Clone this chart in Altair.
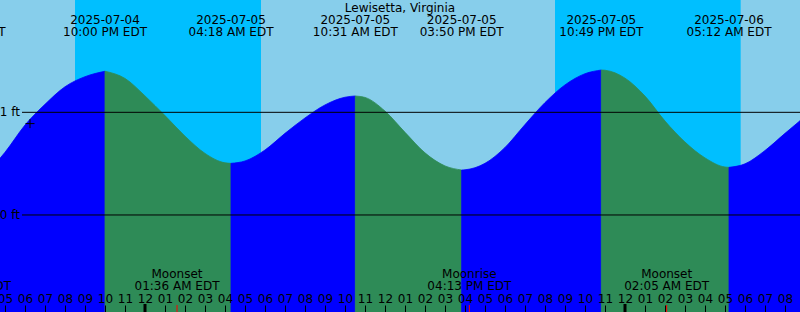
import altair as alt
import pandas as pd

STATION = "Lewisetta, Virginia"

# Water level readings (ft)
TIDE_TIMES = [
    "2025-07-04T16:45", "2025-07-04T17:00", "2025-07-04T18:00", "2025-07-04T19:00",
    "2025-07-04T20:00", "2025-07-04T21:00", "2025-07-04T22:00", "2025-07-04T23:00",
    "2025-07-05T00:00", "2025-07-05T01:00", "2025-07-05T02:00", "2025-07-05T03:00",
    "2025-07-05T04:00", "2025-07-05T04:18", "2025-07-05T05:00", "2025-07-05T06:00",
    "2025-07-05T07:00", "2025-07-05T08:00", "2025-07-05T09:00", "2025-07-05T10:00",
    "2025-07-05T10:31", "2025-07-05T11:00", "2025-07-05T12:00", "2025-07-05T13:00",
    "2025-07-05T14:00", "2025-07-05T15:00", "2025-07-05T15:50", "2025-07-05T16:00",
    "2025-07-05T17:00", "2025-07-05T18:00", "2025-07-05T19:00", "2025-07-05T20:00",
    "2025-07-05T21:00", "2025-07-05T22:00", "2025-07-05T22:49", "2025-07-05T23:00",
    "2025-07-06T00:00", "2025-07-06T01:00", "2025-07-06T02:00", "2025-07-06T03:00",
    "2025-07-06T04:00", "2025-07-06T05:00", "2025-07-06T05:12", "2025-07-06T06:00",
    "2025-07-06T07:00", "2025-07-06T08:00", "2025-07-06T08:45",
]
TIDE_FT = [
    0.552, 0.611, 0.876, 1.078,
    1.249, 1.347, 1.400, 1.330,
    1.160, 0.968, 0.768, 0.600,
    0.508, 0.503, 0.526, 0.633,
    0.795, 0.945, 1.072, 1.147,
    1.159, 1.145, 1.012, 0.805,
    0.605, 0.478, 0.438, 0.440,
    0.503, 0.658, 0.881, 1.095,
    1.267, 1.376, 1.412, 1.410,
    1.333, 1.158, 0.915, 0.710,
    0.556, 0.467, 0.464, 0.498,
    0.628, 0.795, 0.918,
]

# High / low tide events
EXTREME_TIMES = ["2025-07-04T14:56", "2025-07-04T22:00", "2025-07-05T04:18", "2025-07-05T10:31",
                 "2025-07-05T15:50", "2025-07-05T22:49", "2025-07-06T05:12"]
EXTREME_DATES = ["2025-07-04", "2025-07-04", "2025-07-05", "2025-07-05",
                 "2025-07-05", "2025-07-05", "2025-07-06"]
EXTREME_CLOCK = ["02:56 PM EDT", "10:00 PM EDT", "04:18 AM EDT", "10:31 AM EDT",
                 "03:50 PM EDT", "10:49 PM EDT", "05:12 AM EDT"]

# Night periods (sunset -> sunrise)
NIGHT_START = ["2025-07-04T20:30", "2025-07-05T20:30"]
NIGHT_END = ["2025-07-05T05:48", "2025-07-06T05:47"]

# Moon events
MOON_TIMES = ["2025-07-04T15:12", "2025-07-05T01:36", "2025-07-05T16:13", "2025-07-06T02:05"]
MOON_EVENTS = ["Moonrise", "Moonset", "Moonrise", "Moonset"]
MOON_CLOCK = ["03:12 PM EDT", "01:36 AM EDT", "04:13 PM EDT", "02:05 AM EDT"]

MIDNIGHTS = ["2025-07-05T00:00", "2025-07-06T00:00"]

# Hour ticks along the bottom
HOUR_TICKS = [
    "2025-07-04T17:00", "2025-07-04T18:00", "2025-07-04T19:00", "2025-07-04T20:00",
    "2025-07-04T21:00", "2025-07-04T22:00", "2025-07-04T23:00", "2025-07-05T00:00",
    "2025-07-05T01:00", "2025-07-05T02:00", "2025-07-05T03:00", "2025-07-05T04:00",
    "2025-07-05T05:00", "2025-07-05T06:00", "2025-07-05T07:00", "2025-07-05T08:00",
    "2025-07-05T09:00", "2025-07-05T10:00", "2025-07-05T11:00", "2025-07-05T12:00",
    "2025-07-05T13:00", "2025-07-05T14:00", "2025-07-05T15:00", "2025-07-05T16:00",
    "2025-07-05T17:00", "2025-07-05T18:00", "2025-07-05T19:00", "2025-07-05T20:00",
    "2025-07-05T21:00", "2025-07-05T22:00", "2025-07-05T23:00", "2025-07-06T00:00",
    "2025-07-06T01:00", "2025-07-06T02:00", "2025-07-06T03:00", "2025-07-06T04:00",
    "2025-07-06T05:00", "2025-07-06T06:00", "2025-07-06T07:00", "2025-07-06T08:00",
]

LEVEL_FT = [1, 0]
LEVEL_LABELS = ["1 ft", "0 ft"]

MARK_TIMES = ["2025-07-04T18:15"]
MARK_FT = [0.89]

X_START = "2025-07-04T16:45"
X_END = "2025-07-06T08:45"
Y_MIN, Y_MAX = -0.945, 2.094

DAY = "#87CEEB"
NIGHT = "#00BFFF"
RISING = "#0000FF"
FALLING = "#2E8B57"
FONT = "DejaVu Sans"


def ms(t):
    return int(pd.Timestamp(t, tz="UTC").value // 10**6)


# Build tide segments between extremes
bounds = [X_START] + [t for t in EXTREME_TIMES if X_START < t < X_END] + [X_END]
rows = []
for i in range(len(bounds) - 1):
    a, b = bounds[i], bounds[i + 1]
    pts = [(t, h) for t, h in zip(TIDE_TIMES, TIDE_FT) if a <= t <= b]
    direction = "rising" if pts[-1][1] > pts[0][1] else "falling"
    for t, h in pts:
        rows.append({"t": ms(t), "ft": h, "seg": i, "dir": direction})
tide_df = pd.DataFrame(rows)

ext_df = pd.DataFrame({"t": [ms(t) for t in EXTREME_TIMES], "d": EXTREME_DATES, "c": EXTREME_CLOCK})
night_df = pd.DataFrame({"t": [ms(t) for t in NIGHT_START], "t2": [ms(t) for t in NIGHT_END]})
moon_df = pd.DataFrame({"t": [ms(t) for t in MOON_TIMES], "e": MOON_EVENTS, "c": MOON_CLOCK})
mid_df = pd.DataFrame({"t": [ms(t) for t in MIDNIGHTS]})
level_df = pd.DataFrame({"ft": LEVEL_FT, "lab": LEVEL_LABELS})
mark_df = pd.DataFrame({"t": [ms(t) for t in MARK_TIMES], "ft": MARK_FT})
title_df = pd.DataFrame({"name": [STATION]})

x_scale = alt.Scale(type="utc", domain=[ms(X_START), ms(X_END)], nice=False)
x_axis = alt.Axis(
    orient="top", offset=-312,
    values=[ms(t) for t in HOUR_TICKS],
    labelExpr="utcFormat(datum.value, '%I')",
    labelFlush=False, labelOverlap=False, labelBound=False,
    domain=False, grid=False, title=None,
    tickSize=7, tickColor="black", tickWidth=1,
    labelPadding=3, labelBaseline="alphabetic",
    labelFont=FONT, labelFontSize=12, labelColor="black", zindex=1,
)
y_scale = alt.Scale(domain=[Y_MIN, Y_MAX], nice=False, zero=False)
dir_scale = alt.Scale(domain=["rising", "falling"], range=[RISING, FALLING])


def X(field="t"):
    return alt.X(f"{field}:T", scale=x_scale, axis=x_axis)


def Y(field="ft"):
    return alt.Y(f"{field}:Q", scale=y_scale, axis=None)


night = alt.Chart(night_df).mark_rect(color=NIGHT).encode(
    x=X(), x2="t2:T", y=alt.value(0), y2=alt.value(312)
)

tide = alt.Chart(tide_df).mark_area(interpolate="monotone", strokeWidth=0.8).encode(
    x=X(), y=Y(), y2=alt.datum(Y_MIN),
    color=alt.Color("dir:N", scale=dir_scale, legend=None),
    stroke=alt.Stroke("dir:N", scale=dir_scale, legend=None),
    detail="seg:N",
)

levels = alt.Chart(level_df).mark_rule(color="black", strokeWidth=1).encode(
    y=Y(), x=alt.value(22), x2=alt.value(800)
)
level_text = alt.Chart(level_df).mark_text(
    align="right", baseline="middle", font=FONT, fontSize=12, color="black"
).encode(y=Y(), x=alt.value(20), text="lab:N")

mark = alt.Chart(mark_df).mark_point(
    shape="M-1,0L1,0M0,-1L0,1", filled=False, color="black", strokeWidth=1, size=81, opacity=1
).encode(x=X(), y=Y())

title = alt.Chart(title_df).mark_text(
    font=FONT, fontSize=12, color="black", baseline="alphabetic"
).encode(x=alt.value(400), y=alt.value(12), text="name:N")

ext_date = alt.Chart(ext_df).mark_text(
    font=FONT, fontSize=12, color="black", baseline="alphabetic"
).encode(x=X(), y=alt.value(24), text="d:N")
ext_clock = alt.Chart(ext_df).mark_text(
    font=FONT, fontSize=12, color="black", baseline="alphabetic"
).encode(x=X(), y=alt.value(36), text="c:N")

moon_event = alt.Chart(moon_df).mark_text(
    font=FONT, fontSize=12, color="black", baseline="alphabetic"
).encode(x=X(), y=alt.value(278), text="e:N")
moon_clock = alt.Chart(moon_df).mark_text(
    font=FONT, fontSize=12, color="black", baseline="alphabetic"
).encode(x=X(), y=alt.value(290), text="c:N")

moon_ticks = alt.Chart(moon_df).mark_rule(color="#FF0000", strokeWidth=1).encode(
    x=X(), y=alt.value(305), y2=alt.value(312)
)
mid_ticks = alt.Chart(mid_df).mark_rule(color="black", strokeWidth=3).encode(
    x=X(), y=alt.value(304), y2=alt.value(312)
)

chart = alt.layer(
    night, tide, levels, level_text, mark, title, ext_date, ext_clock,
    moon_event, moon_clock, moon_ticks, mid_ticks,
).properties(
    width=800, height=312, autosize="none", padding=0, background=DAY
).configure_view(stroke=None)

chart.save("out.html", embed_options={"renderer": "svg", "actions": False})
